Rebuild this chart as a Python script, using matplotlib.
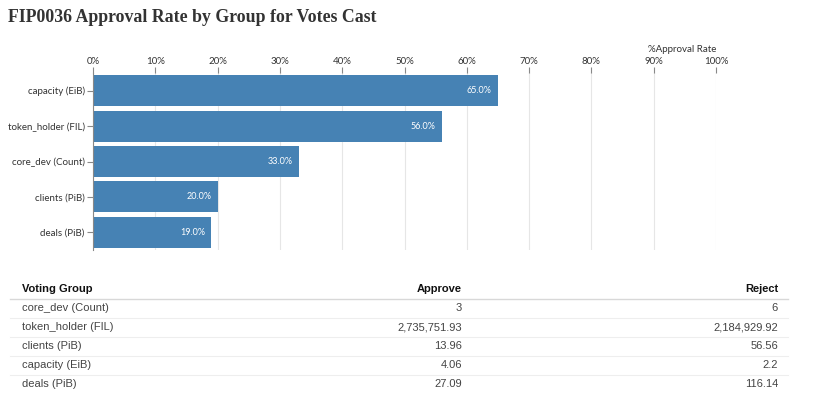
import matplotlib.pyplot as plt
from matplotlib.lines import Line2D

groups = ['capacity (EiB)', 'token_holder (FIL)', 'core_dev (Count)', 'clients (PiB)', 'deals (PiB)']
approval_rate = [65.0, 56.0, 33.0, 20.0, 19.0]

table_cols = ['Voting Group', 'Approve', 'Reject']
table_groups = ['core_dev (Count)', 'token_holder (FIL)', 'clients (PiB)', 'capacity (EiB)', 'deals (PiB)']
table_approve = ['3', '2,735,751.93', '13.96', '4.06', '27.09']
table_reject = ['6', '2,184,929.92', '56.56', '2.2', '116.14']

W, H = 830, 403
fig = plt.figure(figsize=(W / 100, H / 100), dpi=100)

def px(x, y):
    return x / W, 1 - y / H

# title
fig.text(*px(8, 18), 'FIP0036 Approval Rate by Group for Votes Cast',
         family='Liberation Serif', fontweight='bold', fontsize=12.8,
         color='#333333', va='center', ha='left')

# bar chart
left, right, top, bottom = 93, 716, 73, 250
ax = fig.add_axes([left / W, 1 - bottom / H, (right - left) / W, (bottom - top) / H])
ypos = list(range(len(groups)))
ax.barh(ypos, approval_rate, height=0.88, color='#4682b4', zorder=2)
ax.set_ylim(len(groups) - 0.5, -0.5)
ax.set_xlim(0, 100)
ax.set_yticks(ypos)
ax.set_yticklabels(groups, fontsize=7, family='Lato', color='#333333')
ax.set_xticks(range(0, 101, 10))
ax.set_xticklabels([f'{v}%' for v in range(0, 101, 10)], fontsize=7,
                   family='Lato', color='#333333')
ax.xaxis.tick_top()
ax.grid(axis='x', color='#e6e6e6', lw=0.8, zorder=0)
for s in ['top', 'right', 'bottom']:
    ax.spines[s].set_visible(False)
ax.spines['left'].set_color('#888888')
ax.tick_params(axis='x', length=4, width=0.8, color='#888888', pad=1)
ax.tick_params(axis='y', length=4, width=0.8, color='#888888', pad=2)
for y, v in zip(ypos, approval_rate):
    ax.text(v - 1.0, y, f'{v:.1f}%', color='white', fontsize=6.5, family='Lato',
            ha='right', va='center', zorder=3)
fig.text(*px(682, 49), '%Approval Rate', fontsize=7, family='Lato', color='#333333',
         ha='center', va='center')

# table
tfont = dict(family='Liberation Sans', fontsize=8, va='center')
fig.text(*px(22, 289), table_cols[0], ha='left', fontweight='bold', color='#111111', **tfont)
fig.text(*px(462, 289), table_cols[1], ha='right', fontweight='bold', color='#111111', **tfont)
fig.text(*px(778, 289), table_cols[2], ha='right', fontweight='bold', color='#111111', **tfont)
fig.add_artist(Line2D([10 / W, 788 / W], [1 - 298.5 / H] * 2, color='#d8d8d8', lw=1.0))
row_y = 308
for i, (g, a, r) in enumerate(zip(table_groups, table_approve, table_reject)):
    y = row_y + i * 19
    fig.text(*px(22, y), g, ha='left', color='#444444', **tfont)
    fig.text(*px(462, y), a, ha='right', color='#444444', **tfont)
    fig.text(*px(778, y), r, ha='right', color='#444444', **tfont)
    if i < len(table_groups) - 1:
        fig.add_artist(Line2D([10 / W, 788 / W], [1 - (y + 9.5) / H] * 2,
                              color='#eeeeee', lw=0.8))

fig.savefig('out.png', dpi=100)
